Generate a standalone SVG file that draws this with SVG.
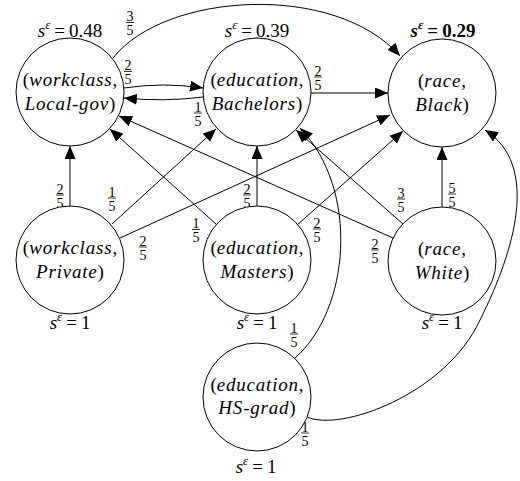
<svg xmlns="http://www.w3.org/2000/svg" width="520" height="481" viewBox="0 0 520 481">
<style>
.n{fill:#fff;stroke:#000;stroke-width:1}
.e{fill:none;stroke:#000;stroke-width:1}
.t{font-family:"Liberation Serif","DejaVu Serif",serif;font-size:19px;fill:#000;text-anchor:middle}
.i{font-style:italic}
.l{letter-spacing:0.8px}
.sup{font-style:italic;font-size:13px}
.fr text{font-family:"Liberation Serif","DejaVu Serif",serif;font-size:14px;fill:#000;text-anchor:middle}
.fr line{stroke:#000;stroke-width:0.8}
</style>
<defs>
<marker id="ah" markerWidth="13" markerHeight="11" refX="13" refY="5.5" orient="auto" markerUnits="userSpaceOnUse"><path d="M0,0 L13,5.5 L0,11 z" fill="#000"/></marker>
</defs>
<g id="connectors">
<path class="e" marker-end="url(#ah)" d="M113,58 C165,-8 335,-18 400,56"/>
<path class="e" marker-end="url(#ah)" d="M124,88 Q163,82 203,88"/>
<path class="e" marker-end="url(#ah)" d="M203,97 Q164,102 124,98"/>
<path class="e" marker-end="url(#ah)" d="M311,93 L388,93"/>
<path class="e" marker-end="url(#ah)" d="M70,206 L70,146"/>
<path class="e" marker-end="url(#ah)" d="M112,224 L216,129"/>
<path class="e" marker-end="url(#ah)" d="M120,238 L390,115"/>
<path class="e" marker-end="url(#ah)" d="M216,224 L110,129"/>
<path class="e" marker-end="url(#ah)" d="M257,206 L257,146"/>
<path class="e" marker-end="url(#ah)" d="M297,225 L403,131"/>
<path class="e" marker-end="url(#ah)" d="M393,238 L119,116"/>
<path class="e" marker-end="url(#ah)" d="M403,224 L296,130"/>
<path class="e" marker-end="url(#ah)" d="M442,207 L442,147"/>
<path class="e" marker-end="url(#ah)" d="M295,358 C350,310 360,190 300,128"/>
<path class="e" marker-end="url(#ah)" d="M307,417 C340,432 445,395 480,320 C515,250 540,165 485,130"/>
<g class="fr" transform="translate(130,22.5)"><text y="-1.5">3</text><line x1="-4" x2="4"/><text y="12.5">5</text></g>
<g class="fr" transform="translate(128,71.5)"><text y="-1.5">2</text><line x1="-4" x2="4"/><text y="12.5">5</text></g>
<g class="fr" transform="translate(198,113)"><text y="-1.5">1</text><line x1="-4" x2="4"/><text y="12.5">5</text></g>
<g class="fr" transform="translate(318,77)"><text y="-1.5">2</text><line x1="-4" x2="4"/><text y="12.5">5</text></g>
<g class="fr" transform="translate(60,195)"><text y="-1.5">2</text><line x1="-4" x2="4"/><text y="12.5">5</text></g>
<g class="fr" transform="translate(112,198)"><text y="-1.5">1</text><line x1="-4" x2="4"/><text y="12.5">5</text></g>
<g class="fr" transform="translate(143,247)"><text y="-1.5">2</text><line x1="-4" x2="4"/><text y="12.5">5</text></g>
<g class="fr" transform="translate(196,229.5)"><text y="-1.5">1</text><line x1="-4" x2="4"/><text y="12.5">5</text></g>
<g class="fr" transform="translate(247,195)"><text y="-1.5">2</text><line x1="-4" x2="4"/><text y="12.5">5</text></g>
<g class="fr" transform="translate(317,229)"><text y="-1.5">2</text><line x1="-4" x2="4"/><text y="12.5">5</text></g>
<g class="fr" transform="translate(401,199)"><text y="-1.5">3</text><line x1="-4" x2="4"/><text y="12.5">5</text></g>
<g class="fr" transform="translate(375,250)"><text y="-1.5">2</text><line x1="-4" x2="4"/><text y="12.5">5</text></g>
<g class="fr" transform="translate(452,194)"><text y="-1.5">5</text><line x1="-4" x2="4"/><text y="12.5">5</text></g>
<g class="fr" transform="translate(294,334)"><text y="-1.5">1</text><line x1="-4" x2="4"/><text y="12.5">5</text></g>
<g class="fr" transform="translate(305,433)"><text y="-1.5">1</text><line x1="-4" x2="4"/><text y="12.5">5</text></g>
</g>
<g id="n-workclass-localgov">
<circle class="n" cx="70" cy="92" r="54"/>
<text class="t" x="70" y="86">(<tspan class="i l">workclass</tspan>,</text>
<text class="t" x="70" y="110"><tspan class="i l">Local-gov</tspan>)</text>
<text class="t" x="70" y="37"><tspan class="i">s</tspan><tspan class="sup" dy="-8">ε</tspan><tspan dy="8" dx="4">=</tspan><tspan dx="4">0.48</tspan></text>
</g>
<g id="n-education-bachelors">
<circle class="n" cx="257" cy="92" r="54"/>
<text class="t" x="257" y="86">(<tspan class="i l">education</tspan>,</text>
<text class="t" x="257" y="110"><tspan class="i l">Bachelors</tspan>)</text>
<text class="t" x="257" y="37"><tspan class="i">s</tspan><tspan class="sup" dy="-8">ε</tspan><tspan dy="8" dx="4">=</tspan><tspan dx="4">0.39</tspan></text>
</g>
<g id="n-race-black">
<circle class="n" cx="442" cy="93" r="54"/>
<text class="t" x="442" y="87">(<tspan class="i l">race</tspan>,</text>
<text class="t" x="442" y="111"><tspan class="i l">Black</tspan>)</text>
<text class="t" x="443" y="37" font-weight="bold"><tspan class="i">s</tspan><tspan class="sup" dy="-8">ε</tspan><tspan dy="8" dx="4">=</tspan><tspan dx="4">0.29</tspan></text>
</g>
<g id="n-workclass-private">
<circle class="n" cx="70" cy="260" r="54"/>
<text class="t" x="70" y="254">(<tspan class="i l">workclass</tspan>,</text>
<text class="t" x="70" y="278"><tspan class="i l">Private</tspan>)</text>
<text class="t" x="70" y="329"><tspan class="i">s</tspan><tspan class="sup" dy="-8">ε</tspan><tspan dy="8" dx="4">=</tspan><tspan dx="4">1</tspan></text>
</g>
<g id="n-education-masters">
<circle class="n" cx="257" cy="260" r="54"/>
<text class="t" x="257" y="254">(<tspan class="i l">education</tspan>,</text>
<text class="t" x="257" y="278"><tspan class="i l">Masters</tspan>)</text>
<text class="t" x="257" y="329"><tspan class="i">s</tspan><tspan class="sup" dy="-8">ε</tspan><tspan dy="8" dx="4">=</tspan><tspan dx="4">1</tspan></text>
</g>
<g id="n-race-white">
<circle class="n" cx="442" cy="261" r="54"/>
<text class="t" x="442" y="255">(<tspan class="i l">race</tspan>,</text>
<text class="t" x="442" y="279"><tspan class="i l">White</tspan>)</text>
<text class="t" x="442" y="329"><tspan class="i">s</tspan><tspan class="sup" dy="-8">ε</tspan><tspan dy="8" dx="4">=</tspan><tspan dx="4">1</tspan></text>
</g>
<g id="n-education-hsgrad">
<circle class="n" cx="257" cy="397" r="54"/>
<text class="t" x="257" y="391">(<tspan class="i l">education</tspan>,</text>
<text class="t" x="257" y="414"><tspan class="i l">HS-grad</tspan>)</text>
<text class="t" x="256" y="473"><tspan class="i">s</tspan><tspan class="sup" dy="-8">ε</tspan><tspan dy="8" dx="4">=</tspan><tspan dx="4">1</tspan></text>
</g>
</svg>
